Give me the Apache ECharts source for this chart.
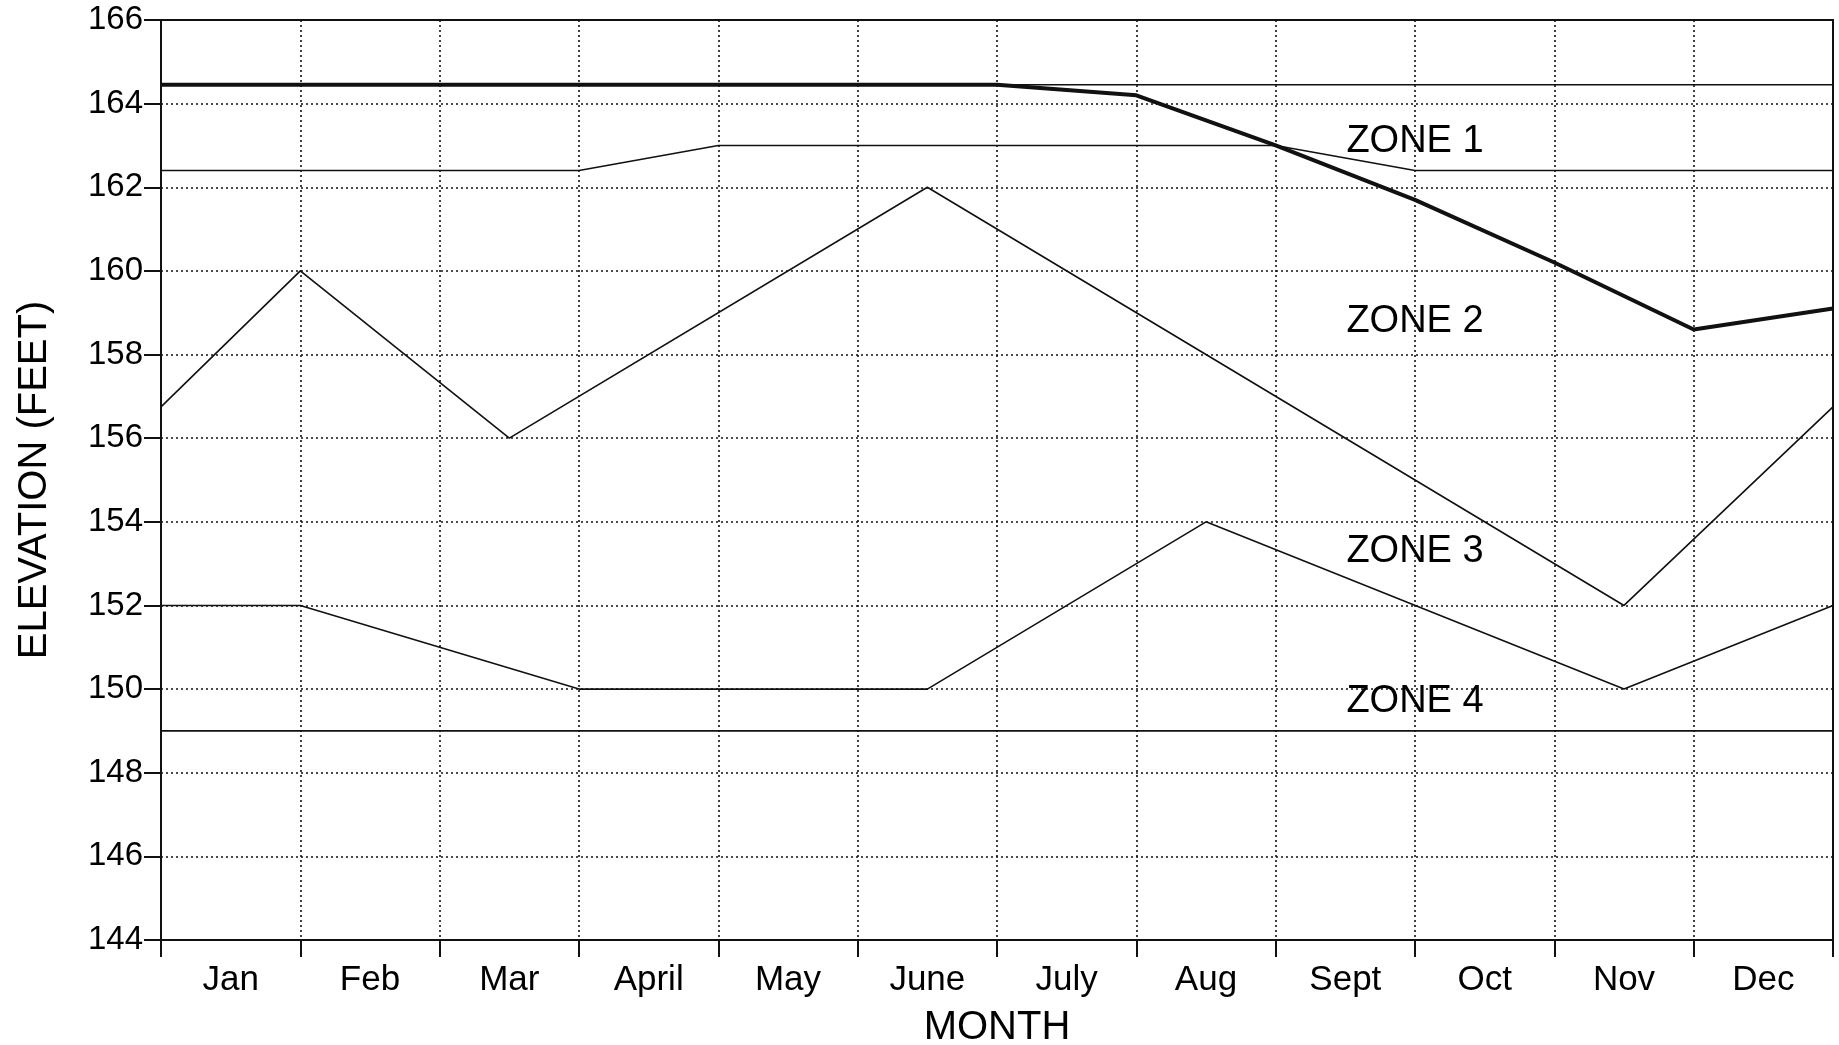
<!DOCTYPE html>
<html>
<head>
<meta charset="utf-8">
<script src="https://cdn.jsdelivr.net/npm/echarts@6/dist/echarts.min.js"></script>
<style>
html,body{margin:0;padding:0;background:#fff;}
#chart{width:1839px;height:1045px;}
</style>
</head>
<body>
<div id="chart"></div>
<script>
// Month labels (categories)
const months = ['Jan','Feb','Mar','April','May','June','July','Aug','Sept','Oct','Nov','Dec'];
// Y ticks
const yMin = 144, yMax = 166, yStep = 2;

// Series: x = months elapsed since Jan 1 (0..12), y = elevation (feet)
const topLineX = [0, 12];
const topLineY = [164.45, 164.45];

const ruleCurveX = [0, 6, 7, 8, 9, 10, 11, 12];
const ruleCurveY = [164.45, 164.45, 164.2, 163.0, 161.7, 160.2, 158.6, 159.1];

const zone12X = [0, 3, 4, 8, 9, 12];
const zone12Y = [162.4, 162.4, 163.0, 163.0, 162.4, 162.4];

const zone23X = [0, 1, 2.5, 5.5, 7.5, 10.5, 12];
const zone23Y = [156.75, 160, 156, 162, 158, 152, 156.75];

const zone34X = [0, 1, 3, 5.5, 7.5, 10.5, 12];
const zone34Y = [152, 152, 150, 150, 154, 150, 152];

const bottomLineX = [0, 12];
const bottomLineY = [149, 149];

const zoneLabelText = ['ZONE 1', 'ZONE 2', 'ZONE 3', 'ZONE 4'];
const zoneLabelX = [9, 9, 9, 9];
const zoneLabelY = [163.1, 158.8, 153.3, 149.7];

const pairs = (xs, ys) => xs.map((x, i) => [x, ys[i]]);
const FONT = '"Liberation Sans", Arial, Helvetica, sans-serif';
const INK = '#000';

function lineSeries(xs, ys, width) {
  return {
    type: 'line', xAxisIndex: 1, yAxisIndex: 0,
    data: pairs(xs, ys), symbol: 'none', silent: true,
    lineStyle: { color: '#111', width: width }, z: 5
  };
}

const chart = echarts.init(document.getElementById('chart'), null, { renderer: 'canvas' });
chart.setOption({
  animation: false,
  backgroundColor: '#fff',
  grid: { left: 161, right: 6, top: 20, bottom: 105, containLabel: false, outerBoundsMode: 'none',
          show: true, borderColor: '#111', borderWidth: 2, backgroundColor: 'transparent' },
  xAxis: [
    {
      type: 'category', data: months, boundaryGap: true, position: 'bottom',
      name: 'MONTH', nameLocation: 'middle', nameGap: 68,
      nameTextStyle: { fontFamily: FONT, fontSize: 40, color: INK },
      axisLine: { show: true, lineStyle: { color: '#111', width: 2 } },
      axisTick: { show: true, inside: false, length: 17, alignWithLabel: false, lineStyle: { color: '#111', width: 2 } },
      axisLabel: { fontFamily: FONT, fontSize: 35, color: INK, margin: 23, interval: 0 },
      splitLine: { show: true, lineStyle: { color: '#111', width: 1.6, type: [2, 3] } }
    },
    {
      type: 'value', min: 0, max: 12, show: false, position: 'top'
    }
  ],
  yAxis: [{
    type: 'value', min: yMin, max: yMax, interval: yStep,
    name: 'ELEVATION (FEET)', nameLocation: 'middle', nameGap: 106, nameRotate: 90,
    nameTextStyle: { fontFamily: FONT, fontSize: 40, color: INK },
    axisLine: { show: true, lineStyle: { color: '#111', width: 2 } },
    axisTick: { show: true, inside: false, length: 17, lineStyle: { color: '#111', width: 2 } },
    axisLabel: { fontFamily: FONT, fontSize: 33, color: INK, margin: 18 },
    splitLine: { show: true, lineStyle: { color: '#111', width: 1.6, type: [2, 3] } }
  }],
  series: [
    lineSeries(topLineX, topLineY, 1.6),
    lineSeries(zone12X, zone12Y, 1.6),
    lineSeries(zone23X, zone23Y, 1.6),
    lineSeries(zone34X, zone34Y, 1.6),
    lineSeries(bottomLineX, bottomLineY, 1.6),
    lineSeries(ruleCurveX, ruleCurveY, 4),
    {
      type: 'scatter', xAxisIndex: 1, yAxisIndex: 0, silent: true,
      symbolSize: 0,
      itemStyle: { opacity: 1, color: '#000' },
      data: zoneLabelText.map((t, i) => ({ name: t, value: [zoneLabelX[i], zoneLabelY[i]] })),
      label: {
        show: true, position: 'inside', formatter: p => p.name,
        fontFamily: FONT, fontSize: 38, color: INK, textBorderWidth: 0, opacity: 1
      },
      z: 6
    }
  ]
});
</script>
</body>
</html>
